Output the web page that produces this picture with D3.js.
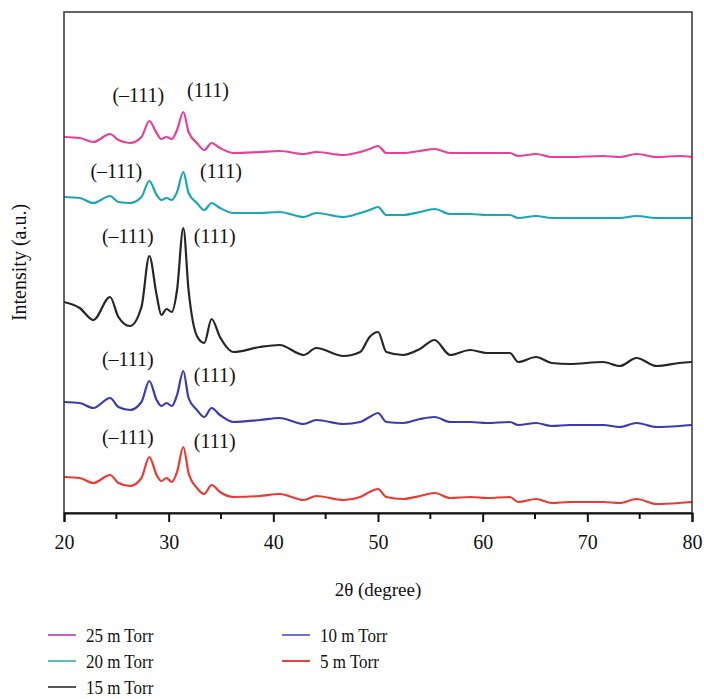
<!DOCTYPE html>
<html>
<head>
<meta charset="utf-8">
<script src="https://d3js.org/d3.v7.min.js"></script>
<style>
  body { margin: 0; background: #fff; }
  svg text { font-family: "Liberation Serif", "DejaVu Serif", serif; fill: #111; }
</style>
</head>
<body>
<script>
// 2theta positions (degree)
var twoTheta = [20.0, 21.5, 22.8, 24.4, 25.2, 26.3, 27.4, 28.15, 28.85, 29.3, 29.8, 30.3, 30.8, 31.4, 31.9,
  32.7, 33.4, 34.1, 34.9, 36.2, 38.7, 40.6, 42.9, 44.1, 46.7, 48.3, 49.2, 50.0, 50.8, 52.4, 54.0, 55.4,
  56.9, 58.8, 60.4, 62.6, 63.4, 65.1, 66.6, 68.3, 71.5, 73.1, 74.7, 76.6, 78.8, 80.0];

// intensity (a.u., curves stacked with offset)
var torr25 = [376, 375, 371, 379, 373, 370, 376, 392, 380, 374, 376, 374, 383, 401, 381,
  370, 363, 370, 365, 360, 361, 362, 359, 361, 358, 361, 364, 367, 360, 360, 362, 364,
  360, 360, 360, 360, 357, 359, 356, 356, 357, 356, 359, 356, 357, 356];
var torr20 = [316, 315, 310, 317, 311, 310, 316, 332, 318, 313, 315, 313, 321, 341, 320,
  310, 303, 310, 305, 300, 300, 301, 296, 300, 296, 300, 303, 306, 298, 298, 301, 304,
  299, 299, 298, 298, 295, 297, 295, 295, 295, 295, 297, 295, 295, 295];
var torr15 = [211, 205, 193, 216, 196, 187, 206, 257, 218, 198, 204, 201, 223, 285, 223,
  177, 170, 194, 176, 161, 166, 168, 158, 165, 157, 161, 176, 181, 161, 158, 164, 173,
  158, 163, 160, 160, 151, 156, 150, 149, 151, 147, 155, 147, 150, 151];
var torr10 = [111, 110, 105, 115, 106, 103, 111, 132, 113, 107, 110, 107, 118, 142, 115,
  103, 96, 105, 98, 91, 93, 95, 89, 93, 89, 91, 96, 100, 91, 90, 94, 96,
  91, 91, 90, 91, 88, 90, 87, 88, 88, 86, 90, 86, 87, 88];
var torr5 = [36, 35, 30, 38, 30, 27, 35, 56, 38, 32, 35, 31, 41, 66, 40,
  25, 19, 28, 21, 16, 17, 19, 13, 17, 13, 16, 21, 24, 16, 14, 17, 20,
  15, 16, 15, 16, 11, 14, 10, 11, 11, 10, 14, 9, 10, 11];

var seriesNames = ["25 m Torr", "20 m Torr", "15 m Torr", "10 m Torr", "5 m Torr"];
var xTicks = [20, 30, 40, 50, 60, 70, 80];
var xMinorTicks = [25, 35, 45, 55, 65, 75];
var peakNames = ["(\u2013111)", "(111)"];
// label anchors [2theta, intensity] for (-111) and (111) of each curve
var minusAnchors = [[27.1, 411], [25.0, 335], [26.1, 270], [26.1, 147], [26.1, 69]];
var plusAnchors = [[33.75, 416], [35.0, 335], [34.4, 270], [34.4, 131], [34.4, 65]];

var lineColors = ["#e8409a", "#1ca7b4", "#262626", "#3a3cad", "#ec3a33"];
var legendColors = ["#c462c6", "#5fbeb6", "#555555", "#7373c9", "#e8433b"];

var serif = '"Liberation Serif", "DejaVu Serif", serif';

var width = 704, height = 699;
var margin = {top: 12, right: 12, bottom: 186, left: 64};

var svg = d3.select("body").append("svg")
  .attr("width", width)
  .attr("height", height);

var x = d3.scaleLinear().domain([20, 80]).range([margin.left, width - margin.right]);
var y = d3.scaleLinear().domain([0, 500]).range([height - margin.bottom, margin.top + 1]);

var allSeries = [torr25, torr20, torr15, torr10, torr5];

var line = d3.line()
  .x(function(d, i) { return x(twoTheta[i]); })
  .y(function(d) { return y(d); })
  .curve(d3.curveMonotoneX);

svg.append("g")
  .selectAll("path")
  .data(allSeries)
  .enter().append("path")
  .attr("d", line)
  .attr("fill", "none")
  .attr("stroke", function(d, i) { return lineColors[i]; })
  .attr("stroke-width", 2.2)
  .attr("stroke-linejoin", "round");

// peak labels
var labels = svg.append("g").attr("text-anchor", "middle");
minusAnchors.forEach(function(p) {
  labels.append("text").attr("x", x(p[0])).attr("y", y(p[1]))
    .style("font-size", "20px").text(peakNames[0]);
});
plusAnchors.forEach(function(p) {
  labels.append("text").attr("x", x(p[0])).attr("y", y(p[1]))
    .style("font-size", "20px").text(peakNames[1]);
});

// frame
svg.append("rect")
  .attr("x", x(20)).attr("y", margin.top)
  .attr("width", x(80) - x(20))
  .attr("height", y(0) - margin.top)
  .attr("fill", "none")
  .attr("stroke", "#333")
  .attr("stroke-width", 1.5);

// x axis
var xAxis = svg.append("g")
  .attr("transform", "translate(0," + y(0) + ")")
  .call(d3.axisBottom(x).tickValues(xTicks).tickSize(9).tickPadding(13).tickFormat(d3.format("d")));
xAxis.attr("font-family", serif);
xAxis.select(".domain").attr("stroke", "#111").attr("stroke-width", 2);
xAxis.selectAll(".tick line").attr("stroke", "#111").attr("stroke-width", 2);
xAxis.selectAll("text")
  .style("font-family", serif)
  .style("font-size", "20px")
  .style("fill", "#111");

svg.append("g")
  .attr("transform", "translate(0," + y(0) + ")")
  .selectAll("line")
  .data(xMinorTicks)
  .enter().append("line")
  .attr("x1", function(d) { return x(d); })
  .attr("x2", function(d) { return x(d); })
  .attr("y1", 0).attr("y2", 6)
  .attr("stroke", "#111").attr("stroke-width", 2);

svg.append("text")
  .attr("x", (x(20) + x(80)) / 2)
  .attr("y", 596)
  .attr("text-anchor", "middle")
  .style("font-size", "19px")
  .text("2\u03b8 (degree)");

svg.append("text")
  .attr("transform", "translate(26," + (margin.top + y(0)) / 2 + ") rotate(-90)")
  .attr("text-anchor", "middle")
  .style("font-size", "20px")
  .text("Intensity (a.u.)");

// legend
var legend = svg.append("g")
  .selectAll("g")
  .data(seriesNames)
  .enter().append("g")
  .attr("transform", function(d, i) {
    var col = i < 3 ? 0 : 1, row = i < 3 ? i : i - 3;
    return "translate(" + (48 + col * 234) + "," + (635 + row * 26) + ")";
  });

legend.append("line")
  .attr("x1", 0).attr("x2", 28)
  .attr("stroke", function(d, i) { return legendColors[i]; })
  .attr("stroke-width", 2);

// the legend font in the figure is drawn a little taller than wide
legend.append("text")
  .attr("transform", "translate(38,0) scale(1,1.15)")
  .attr("dy", "0.35em")
  .style("font-size", "17px")
  .text(function(d) { return d; });
</script>
</body>
</html>
